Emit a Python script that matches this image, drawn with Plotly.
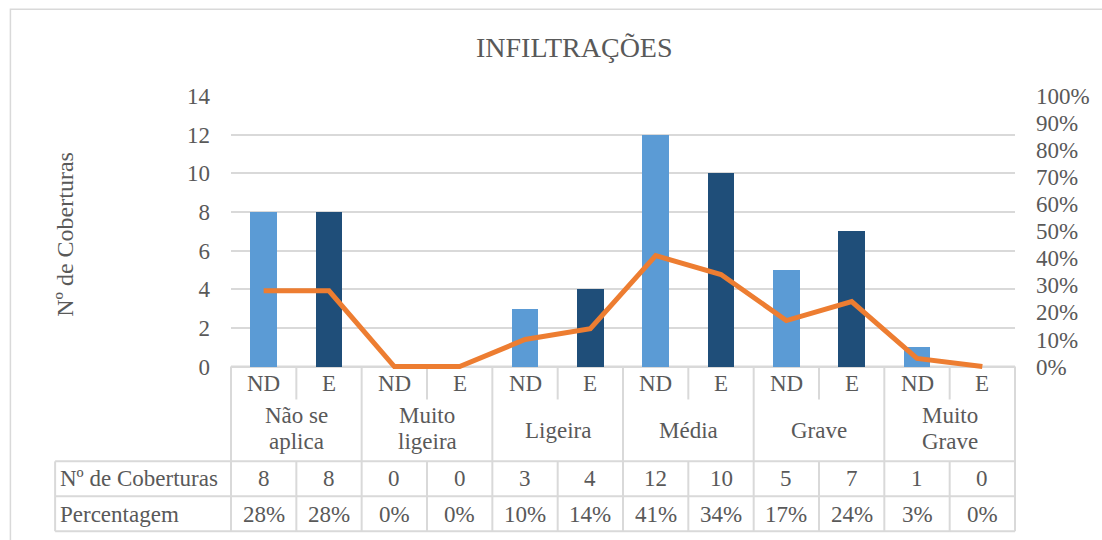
import plotly.graph_objects as go

# Severity classes (category axis) and sub-groups
severities = ["Não se<br>aplica", "Muito<br>ligeira", "Ligeira", "Média", "Grave", "Muito<br>Grave"]
groups = ["ND", "E"]

# Series values, one per (severity, group) pair
coberturas = [8, 8, 0, 0, 3, 4, 12, 10, 5, 7, 1, 0]
percentagem = [0.28, 0.28, 0.00, 0.00, 0.10, 0.14, 0.41, 0.34, 0.17, 0.24, 0.03, 0.00]

left_ticks = [0, 2, 4, 6, 8, 10, 12, 14]
right_ticks = [0.0, 0.1, 0.2, 0.3, 0.4, 0.5, 0.6, 0.7, 0.8, 0.9, 1.0]

# Figure geometry (pixels)
W, H = 1102, 540
L, R, T, Y0 = 231, 1020, 96, 367          # Y0: pixel row of the value zero
Y_MAX = 14
UNIT = (Y0 - T) / Y_MAX                   # pixels per count
PAD = 0.18                                # small room below zero so the line is not clipped
B = Y0 + PAD * UNIT                       # bottom edge of the plot area
PW, PH = R - L, B - T
TXT = "#595959"
GRID = "#D9D9D9"
FONT = "Liberation Serif, Times New Roman, serif"


def px(x):
    return (x - L) / PW


def py(y):
    return (B - y) / PH


n = len(coberturas)
xs = list(range(n))
sub_labels = [groups[i % 2] for i in range(n)]
bar_colors = ["#5B9BD5" if i % 2 == 0 else "#1F4E79" for i in range(n)]

fig = go.Figure()
fig.add_trace(go.Bar(
    x=xs, y=coberturas, width=0.41, marker=dict(color=bar_colors, line=dict(width=0)),
    name="Nº de Coberturas", showlegend=False,
))
fig.add_trace(go.Scatter(
    x=xs, y=percentagem, yaxis="y2", mode="lines", cliponaxis=False,
    line=dict(color="#ED7D31", width=5), name="Percentagem", showlegend=False,
))

shapes = []
line_style = dict(color=GRID, width=2)

# outer chart frame
shapes.append(dict(type="rect", xref="paper", yref="paper",
                   x0=px(9), x1=px(1200), y0=py(600), y1=py(9),
                   line=dict(color=GRID, width=1.5), fillcolor="rgba(0,0,0,0)", layer="below"))

# data table grid
row_top, row_sub, row_cnt, row_pct, row_end = Y0, 400, 462, 497, 532
table_left = 54
shapes.append(dict(type="line", xref="paper", yref="paper", x0=0, x1=1, y0=py(row_top), y1=py(row_top),
                   line=line_style, layer="below"))
for yy in (row_cnt, row_pct, row_end):
    shapes.append(dict(type="line", xref="paper", yref="paper", x0=px(table_left), x1=1,
                       y0=py(yy), y1=py(yy), line=line_style))
shapes.append(dict(type="line", xref="paper", yref="paper", x0=px(table_left), x1=px(table_left),
                   y0=py(row_cnt), y1=py(row_end), line=line_style))
for k in range(n + 1):
    xk = k / n
    if k % 2 == 0:
        shapes.append(dict(type="line", xref="paper", yref="paper", x0=xk, x1=xk,
                           y0=py(row_top), y1=py(row_end), line=line_style, layer="below"))
    else:
        shapes.append(dict(type="line", xref="paper", yref="paper", x0=xk, x1=xk,
                           y0=py(row_top), y1=py(row_sub), line=line_style, layer="below"))
        shapes.append(dict(type="line", xref="paper", yref="paper", x0=xk, x1=xk,
                           y0=py(row_cnt), y1=py(row_end), line=line_style))

font = dict(family=FONT, size=23, color=TXT)
ann = []
for i in range(n):
    ann.append(dict(x=i, y=py(384), xref="x", yref="paper", text=sub_labels[i],
                    showarrow=False, font=font, xanchor="center", yanchor="middle"))
    ann.append(dict(x=i, y=py(479), xref="x", yref="paper", text=str(coberturas[i]),
                    showarrow=False, font=font, xanchor="center", yanchor="middle"))
    ann.append(dict(x=i, y=py(515), xref="x", yref="paper", text=f"{round(percentagem[i] * 100)}%",
                    showarrow=False, font=font, xanchor="center", yanchor="middle"))

for g, name in enumerate(severities):
    parts = name.split("<br>")
    cx = 2 * g + 0.5
    if len(parts) == 1:
        ys = [431]
    else:
        ys = [416, 442]
    for part, yy in zip(parts, ys):
        ann.append(dict(x=cx, y=py(yy), xref="x", yref="paper", text=part,
                        showarrow=False, font=font, xanchor="center", yanchor="middle"))

ann.append(dict(x=px(57), y=py(479), xref="paper", yref="paper", text="Nº de Coberturas",
                showarrow=False, font=font, xanchor="left", yanchor="middle"))
ann.append(dict(x=px(57), y=py(515), xref="paper", yref="paper", text="Percentagem",
                showarrow=False, font=font, xanchor="left", yanchor="middle"))

# chart title and left axis title
ann.append(dict(x=px(577), y=py(47), xref="paper", yref="paper", text="INFILTRAÇÕES",
                showarrow=False, font=dict(family=FONT, size=28, color=TXT),
                xanchor="center", yanchor="middle"))
ann.append(dict(x=px(64), y=py(235), xref="paper", yref="paper", text="Nº de Coberturas",
                showarrow=False, font=dict(family=FONT, size=24, color=TXT), textangle=-90,
                xanchor="center", yanchor="middle"))

fig.update_layout(
    width=W, height=H,
    margin=dict(l=L, r=W - R, t=T, b=H - B, pad=0),
    paper_bgcolor="white", plot_bgcolor="white",
    bargap=0,
    xaxis=dict(range=[-0.5, n - 0.5], showticklabels=False, showgrid=False,
               zeroline=False, showline=False, fixedrange=True),
    yaxis=dict(range=[-PAD, Y_MAX], tickvals=left_ticks, showgrid=True, gridcolor=GRID, gridwidth=1.5,
               zeroline=False, showline=False, ticks="", ticklabelstandoff=20,
               tickfont=dict(family=FONT, size=23, color=TXT)),
    yaxis2=dict(range=[-PAD / Y_MAX, 1], overlaying="y", side="right", tickvals=right_ticks,
                tickformat=".0%", showgrid=False, zeroline=False, showline=False, ticks="",
                ticklabelstandoff=20, tickfont=dict(family=FONT, size=23, color=TXT)),
    shapes=shapes,
    annotations=ann,
)

fig.write_html("out.html")
